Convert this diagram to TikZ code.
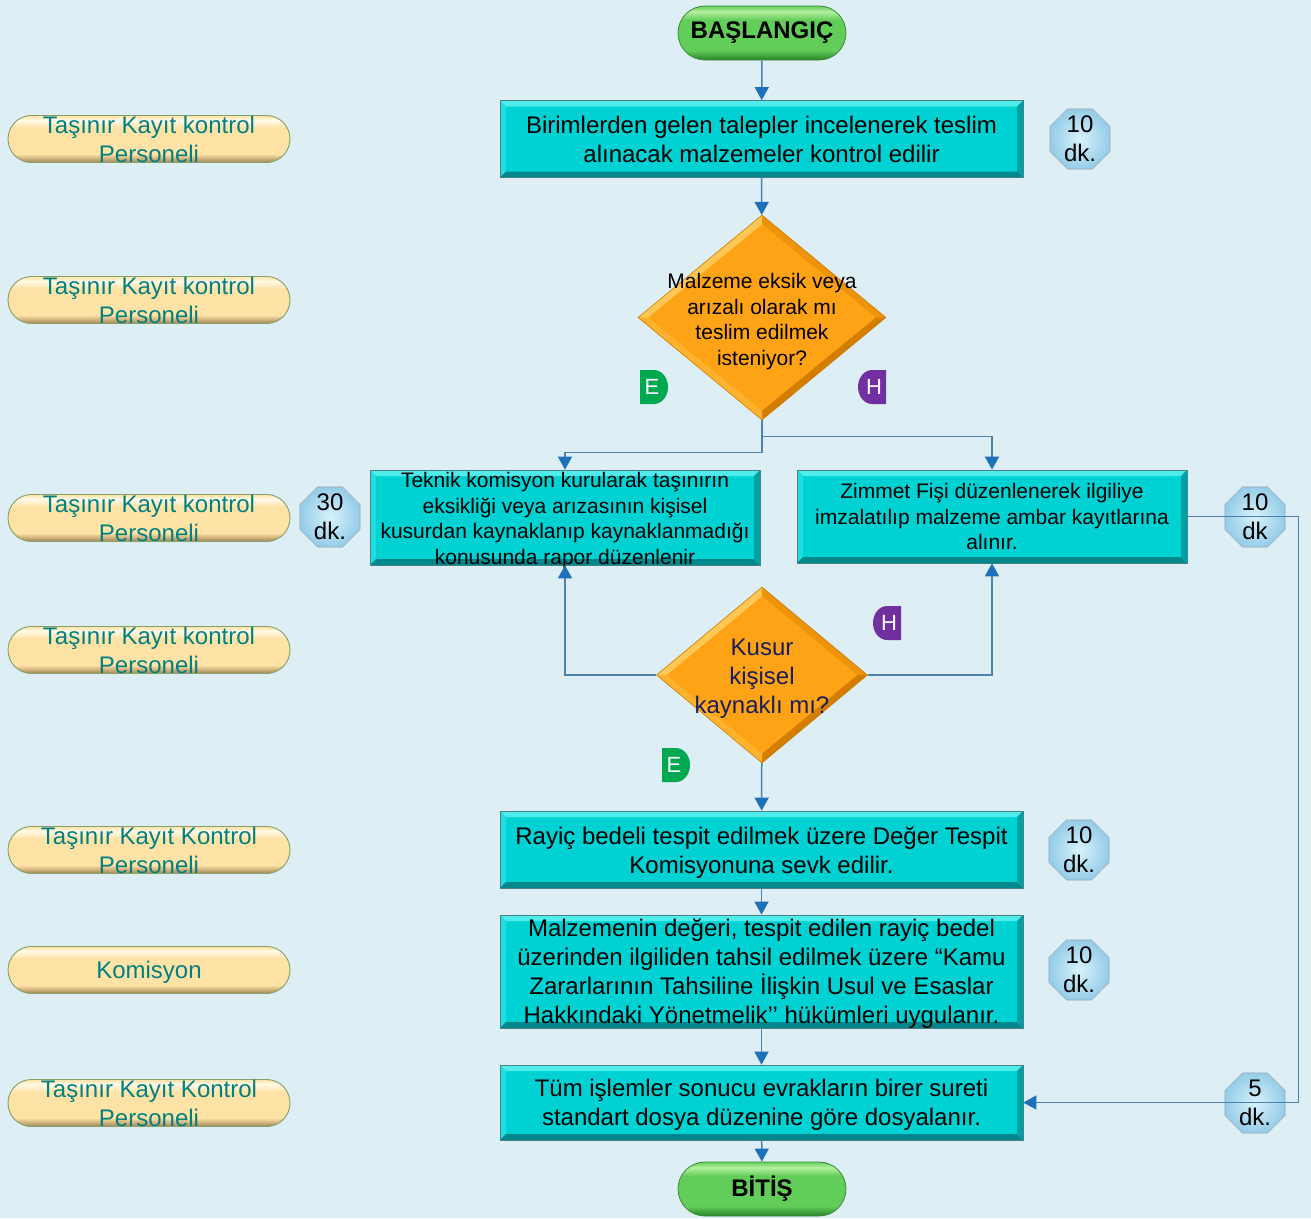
\documentclass[tikz,border=0pt]{standalone}
\usepackage{fontspec}
\setmainfont{Liberation Sans}
\usetikzlibrary{shapes.geometric,arrows.meta,calc}

\definecolor{bg}{RGB}{221,238,244}
\definecolor{cyanf}{RGB}{0,210,212}
\definecolor{cyanl}{RGB}{80,236,236}
\definecolor{cyanl2}{RGB}{30,222,224}
\definecolor{cyand}{RGB}{0,135,140}
\definecolor{cyand2}{RGB}{0,160,165}
\definecolor{cyanb}{RGB}{70,130,135}
\definecolor{orf}{RGB}{255,163,22}
\definecolor{orl}{RGB}{255,200,85}
\definecolor{orl2}{RGB}{255,178,45}
\definecolor{ord}{RGB}{212,126,0}
\definecolor{ord2}{RGB}{238,148,10}
\definecolor{orb}{RGB}{205,125,10}
\definecolor{pmid}{RGB}{255,226,165}
\definecolor{ptop}{RGB}{255,250,232}
\definecolor{pbot}{RGB}{160,132,85}
\definecolor{pbord}{RGB}{135,160,105}
\definecolor{gmid}{RGB}{98,205,88}
\definecolor{gtop}{RGB}{180,240,160}
\definecolor{gbot}{RGB}{40,130,40}
\definecolor{gbord}{RGB}{60,140,60}
\definecolor{octin}{RGB}{215,242,252}
\definecolor{octout}{RGB}{150,205,232}
\definecolor{octb}{RGB}{150,170,185}
\definecolor{connc}{RGB}{75,130,175}
\definecolor{arrowc}{RGB}{30,112,185}
\definecolor{tealt}{RGB}{0,128,128}
\definecolor{navyt}{RGB}{25,30,90}
\definecolor{egreen}{RGB}{0,168,80}
\definecolor{hpurple}{RGB}{112,48,160}

\pgfdeclareverticalshading{pillshade}{100bp}{color(0bp)=(pbot); color(25bp)=(pbot); color(34bp)=(pmid); color(62bp)=(pmid); color(70bp)=(ptop); color(75bp)=(pmid); color(100bp)=(pmid)}
\pgfdeclareverticalshading{greenshade}{100bp}{color(0bp)=(gbot); color(25bp)=(gbot); color(34bp)=(gmid); color(62bp)=(gmid); color(70bp)=(gtop); color(75bp)=(gmid); color(100bp)=(gmid)}

\tikzset{
  procbevel/.style={path picture={
    \coordinate (q1) at (path picture bounding box.north west);
    \coordinate (q2) at (path picture bounding box.north east);
    \coordinate (q3) at (path picture bounding box.south east);
    \coordinate (q4) at (path picture bounding box.south west);
    \fill[cyanl] (q1) -- (q2) -- ([shift={(-6pt,-6pt)}]q2) -- ([shift={(6pt,-6pt)}]q1) -- cycle;
    \fill[cyanl2] (q1) -- ([shift={(6pt,-6pt)}]q1) -- ([shift={(6pt,6pt)}]q4) -- (q4) -- cycle;
    \fill[cyand] (q4) -- ([shift={(6pt,6pt)}]q4) -- ([shift={(-6pt,6pt)}]q3) -- (q3) -- cycle;
    \fill[cyand2] (q2) -- (q3) -- ([shift={(-6pt,6pt)}]q3) -- ([shift={(-6pt,-6pt)}]q2) -- cycle;
  }},
  decbevel/.style={path picture={
    \coordinate (rn) at (path picture bounding box.north);
    \coordinate (re) at (path picture bounding box.east);
    \coordinate (rs) at (path picture bounding box.south);
    \coordinate (rw) at (path picture bounding box.west);
    \fill[orl] (rw) -- (rn) -- ([yshift=-9pt]rn) -- ([xshift=10pt]rw) -- cycle;
    \fill[ord2] (rn) -- (re) -- ([xshift=-10pt]re) -- ([yshift=-9pt]rn) -- cycle;
    \fill[ord] (re) -- (rs) -- ([yshift=9pt]rs) -- ([xshift=-10pt]re) -- cycle;
    \fill[orl2] (rs) -- (rw) -- ([xshift=10pt]rw) -- ([yshift=9pt]rs) -- cycle;
  }},
  proc/.style={rectangle, fill=cyanf, draw=cyanb, line width=0.7pt, inner sep=0pt, procbevel},
  dec/.style={diamond, fill=orf, draw=orb, line width=0.6pt, inner sep=0pt, decbevel},
  term/.style={rectangle, rounded corners=27pt, shading=greenshade, draw=gbord, line width=0.8pt, minimum width=168pt, minimum height=54pt, inner sep=0pt},
  lane/.style={rectangle, rounded corners=23.5pt, shading=pillshade, draw=pbord, line width=0.9pt, minimum width=282pt, minimum height=47pt, inner sep=0pt},
  oct/.style={regular polygon, regular polygon sides=8, minimum size=65pt, inner sep=0pt, inner color=octin, outer color=octout, draw=octb, line width=0.6pt},
  boxtxt/.style={font=\fontsize{24}{29}\selectfont, align=center, text=black, inner sep=0pt, yshift=-2pt},
  smalltxt/.style={font=\fontsize{21}{25.4}\selectfont, align=center, text=black, inner sep=0pt, yshift=-3pt},
  kusurtxt/.style={font=\fontsize{24}{29}\selectfont, align=center, text=navyt, inner sep=0pt, yshift=-4pt},
  lanetxt/.style={font=\fontsize{24}{29}\selectfont, align=center, text=tealt, inner sep=0pt},
  octtxt/.style={font=\fontsize{24}{29}\selectfont, align=center, text=black, inner sep=0pt},
  termtxt/.style={font=\bfseries\fontsize{24}{24}\selectfont, text=black, inner sep=0pt},
  badgetxt/.style={font=\fontsize{22}{22}\selectfont, text=white, inner sep=0pt},
  conn/.style={draw=connc, line width=1.5pt, -{Triangle[width=14pt,length=13pt,color=arrowc]}},
}

\begin{document}
\begin{tikzpicture}[x=1pt,y=-1pt]
\fill[bg] (0,0) rectangle (1311,1218);
\useasboundingbox (0,0) rectangle (1311,1218);

% lanes
\node[lane, label={[lanetxt]center:{Taşınır Kayıt kontrol\\Personeli}}] (l1) at (149,139) {};
\node[lane, label={[lanetxt]center:{Taşınır Kayıt kontrol\\Personeli}}] (l2) at (149,300) {};
\node[lane, label={[lanetxt]center:{Taşınır Kayıt kontrol\\Personeli}}] (l3) at (149,518) {};
\node[lane, label={[lanetxt]center:{Taşınır Kayıt kontrol\\Personeli}}] (l4) at (149,650) {};
\node[lane, label={[lanetxt]center:{Taşınır Kayıt Kontrol\\Personeli}}] (l5) at (149,850) {};
\node[lane, label={[lanetxt,yshift=-2pt]center:{Komisyon}}] (l6) at (149,970) {};
\node[lane, label={[lanetxt]center:{Taşınır Kayıt Kontrol\\Personeli}}] (l7) at (149,1103) {};

% flow
\node[term, label={[termtxt]center:BAŞLANGIÇ}] (start) at (762,33) {};
\node[proc, minimum width=523pt, minimum height=77pt,
  label={[boxtxt,yshift=2pt]center:{Birimlerden gelen talepler incelenerek teslim\\alınacak malzemeler kontrol edilir}}] (b1) at (761.5,139) {};
\node[dec, minimum width=248pt, minimum height=205pt,
  label={[smalltxt,yshift=-1pt]center:{Malzeme eksik veya\\arızalı olarak mı\\teslim edilmek\\isteniyor?}}] (d1) at (762,317.5) {};
\node[proc, minimum width=390pt, minimum height=95pt,
  label={[smalltxt]center:{Teknik komisyon kurularak taşınırın\\eksikliği veya arızasının kişisel\\kusurdan kaynaklanıp kaynaklanmadığı\\konusunda rapor düzenlenir}}] (tek) at (565,517.5) {};
\node[proc, minimum width=390pt, minimum height=93pt,
  label={[smalltxt,yshift=3pt]center:{Zimmet Fişi düzenlenerek ilgiliye\\imzalatılıp malzeme ambar kayıtlarına\\alınır.}}] (zim) at (992,516.5) {};
\node[dec, minimum width=211pt, minimum height=176pt,
  label={[kusurtxt]center:{Kusur\\kişisel\\kaynaklı mı?}}] (d2) at (762,675) {};
\node[proc, minimum width=523pt, minimum height=77pt,
  label={[boxtxt,yshift=-1pt]center:{Rayiç bedeli tespit edilmek üzere Değer Tespit\\Komisyonuna sevk edilir.}}] (ray) at (761.5,849.5) {};
\node[proc, minimum width=523pt, minimum height=113pt,
  label={[boxtxt]center:{Malzemenin değeri, tespit edilen rayiç bedel\\üzerinden ilgiliden tahsil edilmek üzere “Kamu\\Zararlarının Tahsiline İlişkin Usul ve Esaslar\\Hakkındaki Yönetmelik’’ hükümleri uygulanır.}}] (mal) at (761.5,971.5) {};
\node[proc, minimum width=523pt, minimum height=75pt,
  label={[boxtxt]center:{Tüm işlemler sonucu evrakların birer sureti\\standart dosya düzenine göre dosyalanır.}}] (tum) at (761.5,1102.5) {};
\node[term, label={[termtxt]center:BİTİŞ}] (end) at (762,1189) {};

% durations
\node[oct, label={[octtxt]center:{10\\dk.}}] (t1) at (1080,139) {};
\node[oct, label={[octtxt]center:{30\\dk.}}] (t2) at (330,517) {};
\node[oct, label={[octtxt]center:{10\\dk}}] (t3) at (1255,517) {};
\node[oct, label={[octtxt]center:{10\\dk.}}] (t4) at (1079,850) {};
\node[oct, label={[octtxt]center:{10\\dk.}}] (t5) at (1079,970) {};
\node[oct, label={[octtxt]center:{5\\dk.}}] (t6) at (1255,1103) {};

% badges
\fill[egreen] (640,370) -- (654,370) arc[start angle=90,end angle=-90,x radius=14pt,y radius=17pt] -- (640,404) -- cycle;
\node[badgetxt] (e1) at (652,387) {E};
\fill[hpurple] (886,370) -- (872,370) arc[start angle=90,end angle=270,x radius=14pt,y radius=17pt] -- (886,404) -- cycle;
\node[badgetxt] (h1) at (874,387) {H};
\fill[hpurple] (901,606) -- (887,606) arc[start angle=90,end angle=270,x radius=14pt,y radius=17pt] -- (901,640) -- cycle;
\node[badgetxt] (h2) at (889,623) {H};
\fill[egreen] (662,748) -- (676,748) arc[start angle=90,end angle=-90,x radius=14pt,y radius=17pt] -- (662,782) -- cycle;
\node[badgetxt] (e2) at (674,765) {E};

% connectors
\draw[conn] (start) -- (b1);
\draw[conn] (b1) -- (d1);
\draw[conn] (d1.south) -- ++(0,32) -| (tek.north);
\draw[conn] (d1.south) -- ++(0,16) -| (zim.north);
\draw[conn] (d2.west) -| (tek.south);
\draw[conn] (d2.east) -| (zim.south);
\draw[conn] (d2) -- (ray);
\draw[conn] (ray) -- (mal);
\draw[conn] (mal) -- (tum);
\draw[conn] (tum) -- (end);
\draw[conn] (zim.east) -- ++(111,0) |- (tum.east);
\end{tikzpicture}
\end{document}
